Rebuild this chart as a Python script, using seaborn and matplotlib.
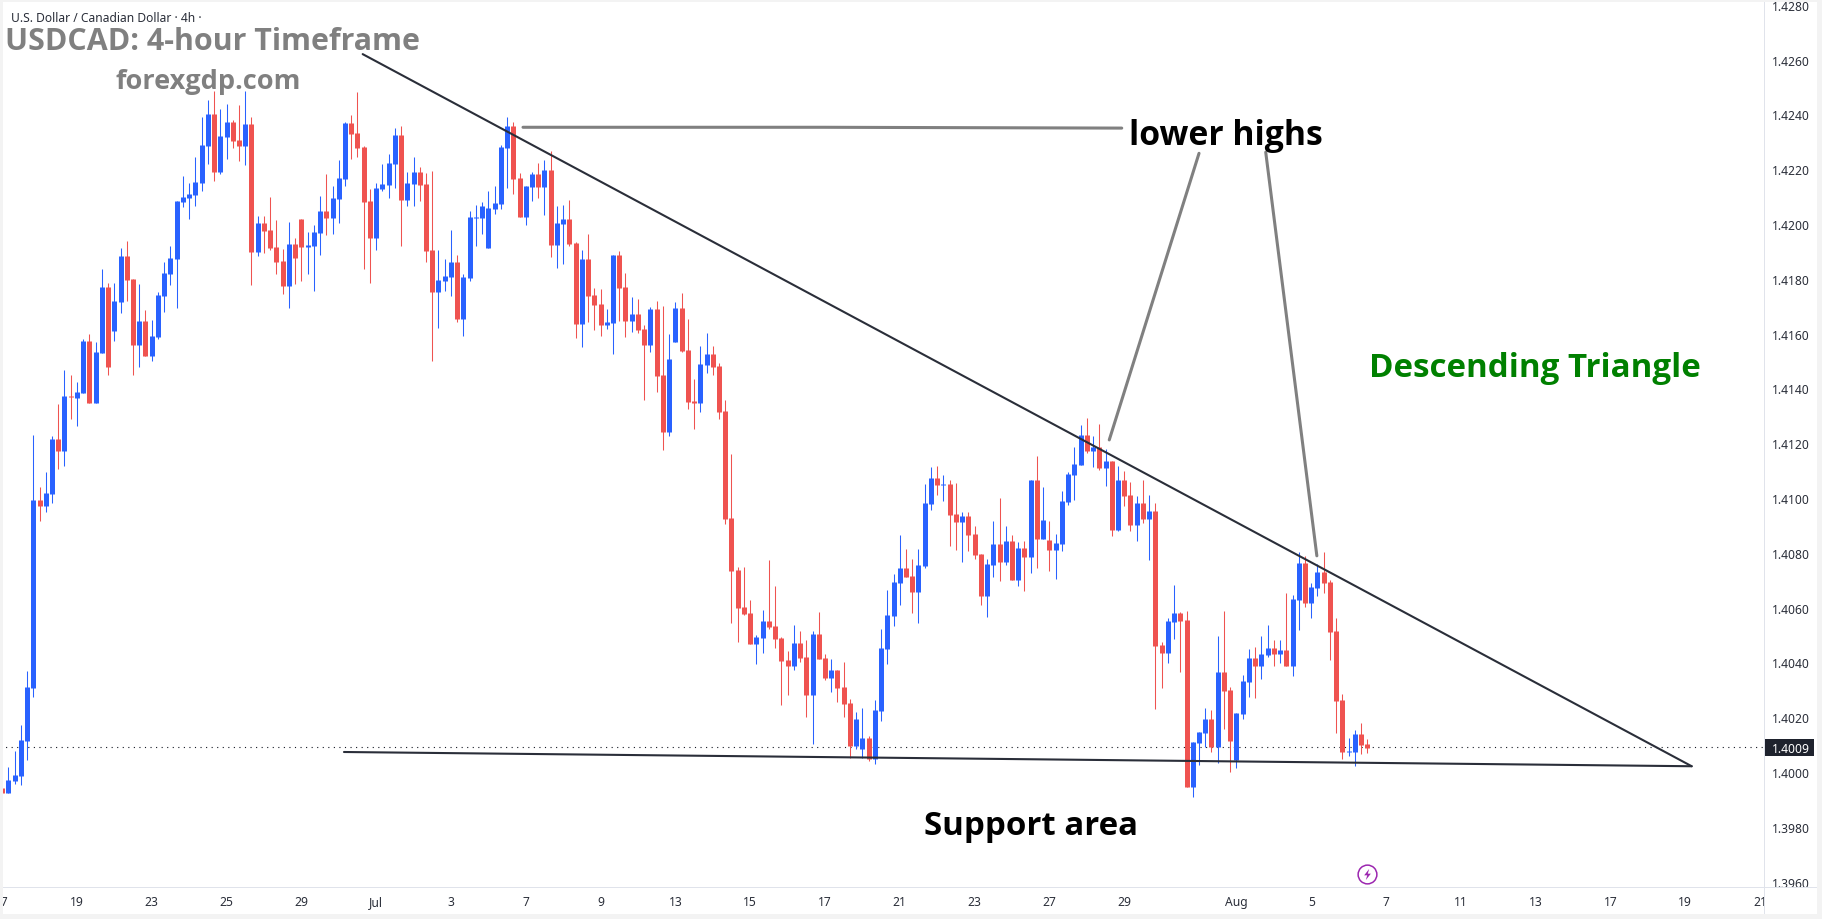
#!/usr/bin/env python3
"""USDCAD 4-hour candles with a descending triangle drawn over them."""

import matplotlib

matplotlib.use("Agg")
import matplotlib.pyplot as plt
import pandas as pd
import seaborn as sns
from matplotlib.lines import Line2D
from matplotlib.patches import Rectangle

opens = [
    1.39942, 1.39925, 1.39967, 1.39985, 1.40113, 1.40307, 1.40993, 1.40971, 1.41015, 1.41215,
    1.41171, 1.41372, 1.41365, 1.41383, 1.41573, 1.41347, 1.41529, 1.41770, 1.41609, 1.41715,
    1.41883, 1.41799, 1.41558, 1.41646, 1.41518, 1.41588, 1.41737, 1.41817, 1.41872, 1.42080,
    1.42095, 1.42106, 1.42150, 1.42285, 1.42401, 1.42190, 1.42317, 1.42372, 1.42306, 1.42285,
    1.42365, 1.41898, 1.42004, 1.41978, 1.41916, 1.41865, 1.41774, 1.41927, 1.42018, 1.41916,
    1.41920, 1.41967, 1.42047, 1.42022, 1.42091, 1.42164, 1.42369, 1.42332, 1.42281, 1.42084,
    1.41949, 1.42128, 1.42142, 1.42219, 1.42325, 1.42088, 1.42146, 1.42190, 1.42146, 1.41905,
    1.41752, 1.41792, 1.41807, 1.41861, 1.41653, 1.41803, 1.42022, 1.42022, 1.41912, 1.42055,
    1.42073, 1.42277, 1.42358, 1.42168, 1.42025, 1.42135, 1.42182, 1.42135, 1.42197, 1.41923,
    1.42000, 1.42018, 1.41931, 1.41635, 1.41872, 1.41741, 1.41708, 1.41631, 1.41639, 1.41887,
    1.41770, 1.41646, 1.41671, 1.41617, 1.41558, 1.41690, 1.41449, 1.41241, 1.41569, 1.41693,
    1.41540, 1.41354, 1.41347, 1.41485, 1.41526, 1.41482, 1.41317, 1.40927, 1.40737, 1.40602,
    1.40580, 1.40467, 1.40489, 1.40551, 1.40533, 1.40489, 1.40409, 1.40387, 1.40471, 1.40420,
    1.40281, 1.40504, 1.40416, 1.40343, 1.40372, 1.40310, 1.40252, 1.40095, 1.40084, 1.40124,
    1.40047, 1.40223, 1.40449, 1.40569, 1.40690, 1.40745, 1.40715, 1.40657, 1.40752, 1.40978,
    1.41073, 1.41047, 1.41051, 1.40942, 1.40912, 1.40934, 1.40869, 1.40796, 1.40642, 1.40755,
    1.40832, 1.40766, 1.40843, 1.40701, 1.40817, 1.40785, 1.41066, 1.40850, 1.40847, 1.40810,
    1.40832, 1.40985, 1.41084, 1.41120, 1.41230, 1.41171, 1.41186, 1.41109, 1.41135, 1.40883,
    1.41066, 1.41011, 1.40901, 1.40982, 1.40923, 1.40953, 1.40463, 1.40434, 1.40547, 1.40580,
    1.40555, 1.39945, 1.40106, 1.40142, 1.40193, 1.40091, 1.40365, 1.40299, 1.40044, 1.40212,
    1.40328, 1.40416, 1.40387, 1.40427, 1.40453, 1.40431, 1.40445, 1.40387, 1.40628, 1.40763,
    1.40617, 1.40672, 1.40730, 1.40693, 1.40515, 1.40263, 1.40073, 1.40073, 1.40139, 1.40102,
]
highs = [
    1.39942, 1.40018, 1.40077, 1.40172, 1.40369, 1.41230, 1.41040, 1.41095, 1.41226, 1.41343,
    1.41467, 1.41449, 1.41423, 1.41580, 1.41599, 1.41569, 1.41836, 1.41785, 1.41785, 1.41912,
    1.41938, 1.41799, 1.41781, 1.41686, 1.41650, 1.41752, 1.41861, 1.41920, 1.42084, 1.42175,
    1.42150, 1.42244, 1.42390, 1.42452, 1.42485, 1.42420, 1.42438, 1.42379, 1.42434, 1.42485,
    1.42390, 1.42029, 1.42029, 1.42098, 1.42015, 1.41909, 1.42007, 1.41949, 1.42018, 1.41971,
    1.41996, 1.42102, 1.42182, 1.42139, 1.42234, 1.42372, 1.42398, 1.42482, 1.42285, 1.42128,
    1.42150, 1.42219, 1.42255, 1.42350, 1.42358, 1.42190, 1.42244, 1.42208, 1.42186, 1.42193,
    1.41905, 1.41872, 1.41978, 1.41887, 1.41817, 1.42047, 1.42069, 1.42080, 1.42120, 1.42139,
    1.42288, 1.42390, 1.42372, 1.42186, 1.42139, 1.42190, 1.42223, 1.42234, 1.42266, 1.42066,
    1.42069, 1.42088, 1.41934, 1.41905, 1.41963, 1.41766, 1.41763, 1.41690, 1.41887, 1.41901,
    1.41821, 1.41734, 1.41726, 1.41631, 1.41697, 1.41719, 1.41701, 1.41599, 1.41715, 1.41748,
    1.41653, 1.41434, 1.41555, 1.41602, 1.41555, 1.41493, 1.41358, 1.41161, 1.40748, 1.40748,
    1.40628, 1.40500, 1.40591, 1.40774, 1.40679, 1.40493, 1.40442, 1.40536, 1.40515, 1.40482,
    1.40515, 1.40584, 1.40431, 1.40412, 1.40372, 1.40401, 1.40266, 1.40219, 1.40234, 1.40131,
    1.40263, 1.40522, 1.40664, 1.40723, 1.40865, 1.40814, 1.40777, 1.40814, 1.41051, 1.41113,
    1.41117, 1.41084, 1.41066, 1.41055, 1.40949, 1.40949, 1.40898, 1.40796, 1.40777, 1.40916,
    1.41000, 1.40898, 1.40865, 1.40839, 1.40843, 1.41066, 1.41153, 1.41040, 1.40916, 1.40869,
    1.41026, 1.41095, 1.41186, 1.41266, 1.41292, 1.41226, 1.41270, 1.41179, 1.41135, 1.41117,
    1.41099, 1.41058, 1.41007, 1.41066, 1.41011, 1.40982, 1.40474, 1.40562, 1.40682, 1.40584,
    1.40588, 1.40109, 1.40146, 1.40234, 1.40226, 1.40496, 1.40588, 1.40310, 1.40215, 1.40354,
    1.40449, 1.40456, 1.40496, 1.40536, 1.40482, 1.40482, 1.40653, 1.40646, 1.40803, 1.40788,
    1.40690, 1.40759, 1.40803, 1.40701, 1.40562, 1.40285, 1.40124, 1.40153, 1.40179, 1.40120,
]
lows = [
    1.39925, 1.39925, 1.39956, 1.39953, 1.40044, 1.40274, 1.40916, 1.40949, 1.40982, 1.41106,
    1.41117, 1.41288, 1.41263, 1.41383, 1.41347, 1.41347, 1.41529, 1.41449, 1.41573, 1.41675,
    1.41719, 1.41449, 1.41478, 1.41518, 1.41500, 1.41580, 1.41679, 1.41777, 1.41693, 1.42062,
    1.42018, 1.42066, 1.42120, 1.42219, 1.42157, 1.42182, 1.42237, 1.42277, 1.42230, 1.42215,
    1.41777, 1.41883, 1.41894, 1.41905, 1.41817, 1.41744, 1.41693, 1.41781, 1.41792, 1.41817,
    1.41755, 1.41887, 1.41960, 1.41963, 1.42004, 1.42139, 1.42237, 1.42244, 1.41836, 1.41785,
    1.41905, 1.42120, 1.42095, 1.42131, 1.41920, 1.42066, 1.42066, 1.42084, 1.41861, 1.41500,
    1.41620, 1.41755, 1.41737, 1.41642, 1.41591, 1.41792, 1.41920, 1.41963, 1.41912, 1.42036,
    1.42055, 1.42131, 1.42109, 1.42025, 1.41996, 1.42084, 1.42095, 1.42033, 1.41879, 1.41839,
    1.41854, 1.41920, 1.41584, 1.41551, 1.41642, 1.41613, 1.41591, 1.41617, 1.41526, 1.41646,
    1.41588, 1.41606, 1.41602, 1.41358, 1.41533, 1.41387, 1.41175, 1.41226, 1.41569, 1.41533,
    1.41325, 1.41252, 1.41314, 1.41456, 1.41449, 1.41288, 1.40905, 1.40544, 1.40474, 1.40573,
    1.40467, 1.40394, 1.40434, 1.40522, 1.40453, 1.40245, 1.40281, 1.40372, 1.40401, 1.40201,
    1.40102, 1.40412, 1.40336, 1.40292, 1.40255, 1.40201, 1.40051, 1.40084, 1.40051, 1.40040,
    1.40029, 1.40186, 1.40394, 1.40533, 1.40609, 1.40712, 1.40580, 1.40544, 1.40745, 1.40956,
    1.41011, 1.40989, 1.40825, 1.40810, 1.40766, 1.40807, 1.40777, 1.40609, 1.40566, 1.40712,
    1.40697, 1.40755, 1.40701, 1.40679, 1.40661, 1.40726, 1.40745, 1.40850, 1.40734, 1.40704,
    1.40807, 1.40974, 1.40993, 1.41120, 1.41164, 1.41113, 1.41102, 1.41044, 1.40861, 1.40880,
    1.40971, 1.40880, 1.40843, 1.40909, 1.40774, 1.40230, 1.40307, 1.40398, 1.40485, 1.40365,
    1.39945, 1.39909, 1.40026, 1.40091, 1.40073, 1.40033, 1.40157, 1.40000, 1.40015, 1.40193,
    1.40274, 1.40270, 1.40339, 1.40420, 1.40387, 1.40398, 1.40387, 1.40350, 1.40518, 1.40602,
    1.40562, 1.40642, 1.40653, 1.40409, 1.40142, 1.40047, 1.40058, 1.40022, 1.40066, 1.40069,
]
closes = [
    1.39925, 1.39971, 1.39989, 1.40117, 1.40310, 1.40993, 1.40971, 1.41018, 1.41215, 1.41171,
    1.41372, 1.41369, 1.41387, 1.41573, 1.41347, 1.41533, 1.41770, 1.41478, 1.41719, 1.41883,
    1.41796, 1.41558, 1.41646, 1.41518, 1.41591, 1.41741, 1.41821, 1.41876, 1.42084, 1.42098,
    1.42109, 1.42153, 1.42288, 1.42401, 1.42190, 1.42321, 1.42372, 1.42303, 1.42285, 1.42365,
    1.41898, 1.42004, 1.41974, 1.41912, 1.41861, 1.41774, 1.41927, 1.41876, 1.41916, 1.41923,
    1.41971, 1.42047, 1.42022, 1.42095, 1.42168, 1.42369, 1.42328, 1.42277, 1.42080, 1.41949,
    1.42131, 1.42146, 1.42223, 1.42325, 1.42088, 1.42150, 1.42190, 1.42142, 1.41901, 1.41752,
    1.41796, 1.41810, 1.41861, 1.41653, 1.41807, 1.42025, 1.42025, 1.42066, 1.42058, 1.42077,
    1.42281, 1.42358, 1.42164, 1.42025, 1.42139, 1.42182, 1.42135, 1.42197, 1.41923, 1.42004,
    1.42018, 1.41927, 1.41635, 1.41872, 1.41737, 1.41704, 1.41631, 1.41642, 1.41887, 1.41766,
    1.41646, 1.41671, 1.41613, 1.41558, 1.41690, 1.41445, 1.41241, 1.41507, 1.41693, 1.41536,
    1.41350, 1.41347, 1.41489, 1.41526, 1.41478, 1.41314, 1.40923, 1.40734, 1.40599, 1.40577,
    1.40467, 1.40493, 1.40551, 1.40529, 1.40485, 1.40405, 1.40387, 1.40471, 1.40416, 1.40281,
    1.40504, 1.40412, 1.40343, 1.40372, 1.40307, 1.40248, 1.40095, 1.40193, 1.40124, 1.40047,
    1.40226, 1.40453, 1.40573, 1.40693, 1.40745, 1.40712, 1.40657, 1.40755, 1.40982, 1.41073,
    1.41047, 1.41051, 1.40938, 1.40912, 1.40934, 1.40865, 1.40792, 1.40642, 1.40759, 1.40832,
    1.40766, 1.40843, 1.40701, 1.40817, 1.40785, 1.41066, 1.40850, 1.40920, 1.40810, 1.40836,
    1.40989, 1.41088, 1.41124, 1.41230, 1.41171, 1.41186, 1.41109, 1.41135, 1.40883, 1.41066,
    1.41007, 1.40901, 1.40982, 1.40923, 1.40953, 1.40460, 1.40434, 1.40551, 1.40580, 1.40551,
    1.39945, 1.40109, 1.40146, 1.40193, 1.40091, 1.40365, 1.40296, 1.40113, 1.40215, 1.40332,
    1.40416, 1.40387, 1.40431, 1.40453, 1.40431, 1.40445, 1.40387, 1.40631, 1.40763, 1.40617,
    1.40675, 1.40730, 1.40690, 1.40511, 1.40259, 1.40073, 1.40077, 1.40139, 1.40099, 1.40088,
]

last_price = 1.4009
price_ticks = [1.3960, 1.3980, 1.4000, 1.4020, 1.4040, 1.4060, 1.4080, 1.4100, 1.4120, 1.4140,
               1.4160, 1.4180, 1.4200, 1.4220, 1.4240, 1.4260, 1.4280]
date_bars = [0, 12, 24, 36, 48, 60, 72, 84, 96, 108, 120, 132, 144, 156, 168, 180, 198, 210,
             222, 234, 246, 258, 270, 282]
date_labels = ["17", "19", "23", "25", "29", "Jul", "3", "7", "9", "13", "15", "17", "21", "23",
               "27", "29", "Aug", "5", "7", "11", "13", "17", "19", "21"]

# hand drawn lines, as (bar, price)
resistance_bars, resistance_prices = [57.84, 271.03], [1.42620, 1.40021]
support_bars, support_prices = [54.84, 271.03], [1.40073, 1.40021]
pointer_flat_bars, pointer_flat_prices = [83.56, 131.7, 179.6], [1.42353, 1.42353, 1.42350]
pointer_left_bars, pointer_left_prices = [192.0, 177.6], [1.42258, 1.41212]
pointer_right_bars, pointer_right_prices = [202.7, 210.9], [1.42262, 1.40789]

W, H = 1822, 920
AXIS_X, AXIS_Y = 1764, 888
BLUE, RED = "#2962FF", "#EF5350"
LINE_COLOR, GRID_COLOR, FRAME_COLOR = "#2A2E39", "#E0E3EB", "#F3F3F3"
BODY_FONT = "Open Sans"
SCALE_FONT = "Noto Sans"
SCALE_SIZE = 8.7
LABEL_NUDGE = 1.5 / 27400  # Noto digits sit a little high when centred


def frac(x, y):
    """Pixel position in the picture -> figure fraction."""
    return x / W, 1 - y / H


def px_rect(fig, x0, y0, x1, y1, color, zorder):
    fig.add_artist(Rectangle(frac(x0, y1), (x1 - x0) / W, (y1 - y0) / H, transform=fig.transFigure,
                             facecolor=color, edgecolor="none", zorder=zorder))


def to_long(top, bottom, direction):
    """Two rows per candle so that lineplot draws one vertical segment for each."""
    n = len(top)
    return pd.DataFrame({"bar": list(range(n)) * 2, "candle": list(range(n)) * 2,
                         "price": list(top) + list(bottom), "direction": direction * 2})


def draw_path(ax, bars, prices, color, width):
    df = pd.DataFrame({"bar": bars, "price": prices})
    sns.lineplot(data=df, x="bar", y="price", sort=False, estimator=None, color=color,
                 linewidth=width, ax=ax)


sns.set_theme(style="white")
plt.rcParams["font.family"] = [BODY_FONT, "DejaVu Sans"]

fig = plt.figure(figsize=(W / 100, H / 100), dpi=100, facecolor="white")
ax = fig.add_axes([0, 1 - AXIS_Y / H, AXIS_X / W, AXIS_Y / H])
ax_price = fig.add_axes([AXIS_X / W, 1 - 915 / H, (1817 - AXIS_X) / W, 915 / H])
ax_price.set_zorder(2)

direction = ["up" if c >= o else "down" for o, c in zip(opens, closes)]
palette = {"up": BLUE, "down": RED}
wicks = to_long(highs, lows, direction)
bodies = to_long([max(o, c) for o, c in zip(opens, closes)],
                 [min(o, c) for o, c in zip(opens, closes)], direction)

ax.axhline(last_price, color="#131722", linewidth=0.8, linestyle=(0, (1, 4)), zorder=1)
sns.lineplot(data=wicks, x="bar", y="price", units="candle", hue="direction", palette=palette,
             estimator=None, linewidth=0.75, solid_capstyle="butt", legend=False, ax=ax)
sns.lineplot(data=bodies, x="bar", y="price", units="candle", hue="direction", palette=palette,
             estimator=None, linewidth=3.6, solid_capstyle="butt", legend=False, ax=ax)

draw_path(ax, resistance_bars, resistance_prices, LINE_COLOR, 1.5)
draw_path(ax, support_bars, support_prices, LINE_COLOR, 1.5)
draw_path(ax, pointer_flat_bars, pointer_flat_prices, "#808080", 2.2)
draw_path(ax, pointer_left_bars, pointer_left_prices, "#808080", 2.2)
draw_path(ax, pointer_right_bars, pointer_right_prices, "#808080", 2.2)

ax.set_xlim(-2.1 / 6.234, (AXIS_X - 2.1) / 6.234)
ax.set_ylim(1.4 + (773 - AXIS_Y) / 27400, 1.4 + 773 / 27400)
ax.set_xlabel("")
ax.set_ylabel("")
ax.set_yticks([])
ax.set_xticks(date_bars)
ax.set_xticklabels(date_labels, fontfamily=SCALE_FONT, fontsize=SCALE_SIZE, color="#2A2E39")
for tick in ax.get_xticklabels():
    if tick.get_text() in ("Jul", "Aug"):
        tick.set_fontweight("bold")
ax.tick_params(axis="x", length=0, pad=6)
sns.despine(ax=ax, left=True, bottom=True)

# price scale
ax_price.set_xlim(0, 1)
ax_price.set_ylim(1.4 + (773 - 915) / 27400, 1.4 + 773 / 27400)
ax_price.set_xticks([])
ax_price.set_yticks([])
ax_price.set_facecolor("white")
sns.despine(ax=ax_price, left=True, bottom=True)
for value in price_ticks:
    ax_price.text(0.15, value - LABEL_NUDGE, f"{value:.4f}", va="center", ha="left",
                  fontsize=SCALE_SIZE, fontfamily=SCALE_FONT, color="#2A2E39")
ax_price.add_patch(Rectangle((0.02, last_price - 8.3 / 27400), 0.92, 16.6 / 27400,
                             facecolor="#1E222D", edgecolor="none", zorder=3))
ax_price.text(0.15, last_price - LABEL_NUDGE, f"{last_price:.4f}", va="center", ha="left",
              fontsize=SCALE_SIZE, fontfamily=SCALE_FONT, fontweight="bold", color="white",
              zorder=4)

# panel lines and outer frame
px_rect(fig, 3, AXIS_Y - 0.5, 1817, AXIS_Y + 0.7, GRID_COLOR, 4)
px_rect(fig, AXIS_X - 0.5, 3, AXIS_X + 0.7, 915, GRID_COLOR, 4)
px_rect(fig, 0, 0, W, 3, FRAME_COLOR, 5)
px_rect(fig, 0, 0, 3.3, H, FRAME_COLOR, 5)
px_rect(fig, 1817, 0, W, H, FRAME_COLOR, 5)
px_rect(fig, 0, 915, W, H, FRAME_COLOR, 5)

# captions
fig.text(*frac(11, 18), "U.S. Dollar / Canadian Dollar · 4h ·", fontsize=SCALE_SIZE, va="center",
         fontfamily=SCALE_FONT, color="#2A2E39", zorder=6)
fig.text(*frac(5, 50), "USDCAD: 4-hour Timeframe", fontsize=21.9, fontweight="bold", va="baseline",
         color="#808080", zorder=6)
fig.text(*frac(115, 89), "forexgdp.com", fontsize=19.5, fontweight="bold", va="baseline",
         color="#808080", zorder=6)
fig.text(*frac(1129, 145), "lower highs", fontsize=24.3, fontweight="bold", va="baseline",
         color="black", zorder=6)
fig.text(*frac(1369, 377), "Descending Triangle", fontsize=23.9, fontweight="bold", va="baseline",
         color="#008000", zorder=6)
fig.text(*frac(924, 835), "Support area", fontsize=23.8, fontweight="bold", va="baseline",
         color="black", zorder=6)

# lightning badge
bx, by = frac(1367, 875)
fig.add_artist(Line2D([bx], [by], marker="o", markersize=13.5, markerfacecolor="none",
                      markeredgecolor="#9C27B0", markeredgewidth=1.1, linestyle="none",
                      transform=fig.transFigure, zorder=6))
fig.add_artist(Line2D([bx], [by], marker=[(0.3, 1), (-0.6, -0.15), (-0.05, -0.15), (-0.3, -1),
                                          (0.6, 0.15), (0.05, 0.15)],
                      markersize=8, markerfacecolor="#9C27B0", markeredgecolor="none",
                      linestyle="none", transform=fig.transFigure, zorder=6))

fig.savefig("out.png", dpi=100)
plt.close(fig)
